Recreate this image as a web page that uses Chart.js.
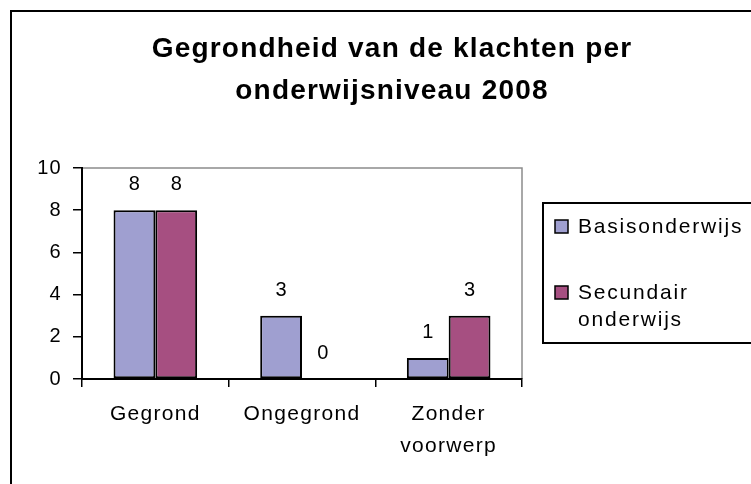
<!DOCTYPE html>
<html>
<head>
<meta charset="utf-8">
<title>Gegrondheid van de klachten per onderwijsniveau 2008</title>
<script src="https://cdn.jsdelivr.net/npm/chart.js@4.4.1/dist/chart.umd.min.js"></script>
<style>
  html, body { margin: 0; padding: 0; background: #fff; }
  #wrap { width: 751px; height: 484px; }
</style>
</head>
<body>
<div id="wrap"><canvas id="myChart" width="751" height="484"></canvas></div>
<script>
'use strict';

// data
var titleLines = ['Gegrondheid van de klachten per', 'onderwijsniveau 2008'];
var categories = ['Gegrond', 'Ongegrond', ['Zonder', 'voorwerp']];
var basisValues = [8, 3, 1];
var secundairValues = [8, 0, 3];
var seriesNames = ['Basisonderwijs', 'Secundair onderwijs'];
var legendLines = [['Basisonderwijs'], ['Secundair', 'onderwijs']];
var yMin = 0, yMax = 10, yStep = 2;

var colors = ['#9F9FD0', '#A64F81'];
var FONT = '"Liberation Sans", Arial, sans-serif';

// frame, title, plot border, value labels and legend box
var excelLook = {
  id: 'excelLook',
  beforeDraw: function (chart) {
    var ctx = chart.ctx;
    ctx.save();
    ctx.fillStyle = '#fff';
    ctx.fillRect(0, 0, chart.width, chart.height);
    ctx.strokeStyle = '#000';
    ctx.lineWidth = 2;
    ctx.beginPath();
    ctx.moveTo(11, chart.height);
    ctx.lineTo(11, 11);
    ctx.lineTo(chart.width, 11);
    ctx.stroke();

    // title
    ctx.fillStyle = '#000';
    ctx.font = 'bold 28px ' + FONT;
    ctx.letterSpacing = '1.2px';
    ctx.textAlign = 'center';
    ctx.textBaseline = 'alphabetic';
    ctx.fillText(titleLines[0], 392, 57);
    ctx.fillText(titleLines[1], 392, 99);
    ctx.restore();

    // gray top/right border of the plot
    var a = chart.chartArea;
    ctx.save();
    ctx.strokeStyle = '#8c8c8c';
    ctx.lineWidth = 1.5;
    ctx.beginPath();
    ctx.moveTo(a.left, a.top);
    ctx.lineTo(a.right, a.top);
    ctx.lineTo(a.right, a.bottom);
    ctx.stroke();
    ctx.restore();

    // slightly wider letters for the axis labels
    ctx.letterSpacing = '1.3px';
  },
  afterDatasetsDraw: function (chart) {
    var ctx = chart.ctx;
    ctx.save();
    ctx.letterSpacing = '0px';
    ctx.fillStyle = '#000';
    ctx.font = '20px ' + FONT;
    ctx.textAlign = 'center';
    ctx.textBaseline = 'alphabetic';
    chart.data.datasets.forEach(function (ds, i) {
      chart.getDatasetMeta(i).data.forEach(function (bar, j) {
        ctx.fillText(String(ds.data[j]), bar.x, bar.y - 20);
      });
    });
    ctx.restore();
  },
  afterDraw: function (chart) {
    var ctx = chart.ctx;
    ctx.save();
    ctx.letterSpacing = '0px';
    ctx.strokeStyle = '#000';
    ctx.lineWidth = 2;
    ctx.strokeRect(543, 203, 230, 140);

    var rows = [{ box: 220, base: [233] }, { box: 286, base: [299, 326] }];
    chart.data.datasets.forEach(function (ds, i) {
      ctx.fillStyle = ds.backgroundColor;
      ctx.fillRect(555, rows[i].box, 13, 13);
      ctx.lineWidth = 1.5;
      ctx.strokeRect(555, rows[i].box, 13, 13);
      ctx.fillStyle = '#000';
      ctx.font = '21px ' + FONT;
      ctx.letterSpacing = '1.8px';
      ctx.textAlign = 'left';
      legendLines[i].forEach(function (line, k) {
        ctx.fillText(line, 578, rows[i].base[k]);
      });
      ctx.letterSpacing = '0px';
    });
    ctx.restore();
    chart.ctx.letterSpacing = '0px';
  }
};

var ctx = document.getElementById('myChart').getContext('2d');
var myChart = new Chart(ctx, {
  type: 'bar',
  data: {
    labels: categories,
    datasets: [{
      label: seriesNames[0],
      data: basisValues,
      backgroundColor: colors[0],
      borderColor: '#000',
      borderWidth: 2,
      borderSkipped: false
    }, {
      label: seriesNames[1],
      data: secundairValues,
      backgroundColor: colors[1],
      borderColor: '#000',
      borderWidth: 2,
      borderSkipped: false
    }]
  },
  options: {
    responsive: false,
    animation: false,
    events: [],
    categoryPercentage: 0.57,
    barPercentage: 1.0,
    layout: { padding: { top: 168, right: 229, left: 0, bottom: 0 } },
    plugins: {
      legend: { display: false },
      title: { display: false },
      tooltip: { enabled: false }
    },
    scales: {
      x: {
        offset: true,
        grid: { offset: true, drawOnChartArea: false, tickLength: 8, color: '#000', lineWidth: 1.5 },
        border: { color: '#000', width: 2 },
        ticks: {
          color: '#000',
          padding: 11,
          maxRotation: 0,
          font: { family: FONT, size: 21, lineHeight: 1.52 }
        },
        afterFit: function (s) { s.height = 105; }
      },
      y: {
        min: yMin,
        max: yMax,
        grid: { drawOnChartArea: false, tickLength: 9, color: '#000', lineWidth: 1.5 },
        border: { color: '#000', width: 2 },
        ticks: {
          stepSize: yStep,
          color: '#000',
          padding: 11,
          font: { family: FONT, size: 20 }
        },
        afterFit: function (s) { s.width = 82; }
      }
    }
  },
  plugins: [excelLook]
});
</script>
</body>
</html>
